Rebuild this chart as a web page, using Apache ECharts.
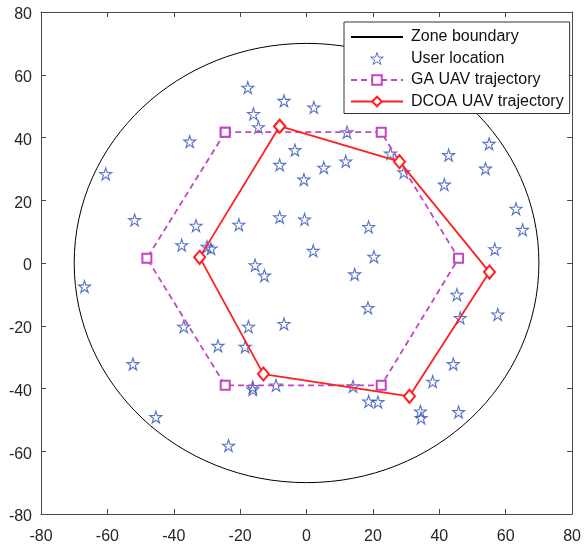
<!DOCTYPE html>
<html>
<head>
<meta charset="utf-8">
<script src="https://cdn.jsdelivr.net/npm/echarts@6/dist/echarts.min.js"></script>
<style>
html,body{margin:0;padding:0;background:#fff;}
#chart{width:584px;height:545px;}
</style>
</head>
<body>
<div id="chart"></div>
<script>
// ---- data ----
const axisTicks = [-80, -60, -40, -20, 0, 20, 40, 60, 80];
const zoneBoundary = [0, 0, 70]; // center x, center y, radius
const userLocations = [
  [-17.7, 55.9], [-6.8, 51.7], [-16, 47.5], [-14.5, 43.3], [-35.2, 38.7],
  [-3.5, 36], [-60.5, 28.4], [-8.1, 31.3], [-0.8, 26.6], [-51.8, 13.7],
  [-33.3, 11.9], [-20.4, 12.2], [-8.1, 14.6], [-0.6, 13.9], [-37.6, 5.7],
  [-30, 5.2], [-28.8, 4.6], [-15.5, -0.7], [2.2, 49.6], [12.2, 41.7],
  [25.3, 34.9], [29.3, 28.9], [11.8, 32.4], [5.2, 30.4], [55, 38],
  [42.8, 34.4], [53.9, 30.1], [41.5, 25], [63.1, 17.3], [65.1, 10.6],
  [18.7, 11.5], [2, 3.9], [20.3, 2], [56.7, 4.4], [-66.9, -7.5],
  [-12.7, -4], [-37, -20.3], [-17.5, -20.3], [-6.8, -19.4], [-26.7, -26.4],
  [-18.5, -26.7], [-52.3, -32.2], [-16.2, -39.5], [-16.2, -40.3], [-9.2, -39],
  [-45.4, -49.1], [-23.5, -58.2], [14.5, -3.6], [18.5, -14.3], [45.3, -10.1],
  [46.3, -17.5], [57.6, -16.4], [44.2, -32.2], [38, -37.8], [14, -39.3],
  [18.7, -44.1], [21.5, -44.3], [34.3, -47.3], [34.5, -49.4], [45.8, -47.5]
];
const gaTrajectory = [
  [-24.5, 41.7], [22.5, 41.7], [45.8, 1.5], [22.5, -39], [-24.5, -39], [-48.1, 1.5], [-24.5, 41.7]
];
const dcoaTrajectory = [
  [-8.1, 43.6], [28, 32.3], [55.1, -2.9], [31, -42.5], [-13, -35.4], [-32.2, 1.8], [-8.1, 43.6]
];
const legendNames = ['Zone boundary', 'User location', 'GA UAV trajectory', 'DCOA UAV trajectory'];

// ---- chart ----
const STAR = 'path://M10,0L12.245,6.91L19.511,6.91L13.633,11.18L15.878,18.09L10,13.82L4.122,18.09L6.367,11.18L0.489,6.91L7.755,6.91Z';
const FONT = "'Liberation Sans', Arial, Helvetica, sans-serif";
const axisColor = '#4a4a4a';
const axMin = axisTicks[0], axMax = axisTicks[axisTicks.length - 1];
const axInterval = axisTicks[1] - axisTicks[0];

function mkAxis(pos, showLabel, isX) {
  const label = {
    show: showLabel, color: '#262626', fontSize: 16, fontFamily: FONT,
    margin: isX ? 15 : 9
  };
  if (!isX) { label.verticalAlign = 'top'; label.lineHeight = 6; }
  return {
    type: 'value', position: pos, min: axMin, max: axMax, interval: axInterval,
    axisLine: { show: true, onZero: false, lineStyle: { color: axisColor, width: 1 } },
    axisTick: { show: true, inside: true, length: 5, lineStyle: { color: axisColor } },
    axisLabel: label,
    splitLine: { show: false }
  };
}

const chart = echarts.init(document.getElementById('chart'), null, { renderer: 'canvas' });
chart.setOption({
  animation: false,
  backgroundColor: '#fff',
  grid: { left: 41, right: 9, top: 12, bottom: 28, containLabel: false },
  xAxis: [mkAxis('bottom', true, true), mkAxis('top', false, true)],
  yAxis: [mkAxis('left', true, false), mkAxis('right', false, false)],
  legend: {
    data: [
      { name: legendNames[0], itemStyle: { opacity: 0 } },
      { name: legendNames[1], itemStyle: { borderWidth: 1 } },
      { name: legendNames[2] },
      { name: legendNames[3] }
    ],
    orient: 'vertical',
    left: 344, top: 22,
    padding: [7, 6, 4, 6],
    itemWidth: 52, itemHeight: 12, itemGap: 5.5,
    backgroundColor: '#fff', borderColor: '#333', borderWidth: 1,
    textStyle: { fontSize: 16, fontFamily: FONT, color: '#111', lineHeight: 16, padding: [0, 0, 0, 3] },
    selectedMode: false
  },
  series: [
    {
      name: 'Zone boundary', type: 'line', data: [], symbol: 'none',
      lineStyle: { color: '#000', width: 1 }, itemStyle: { color: '#000' }
    },
    {
      name: 'zone', type: 'custom', xAxisIndex: 0, yAxisIndex: 0,
      dimensions: ['x', 'y', 'r'], encode: { x: 0, y: 1 },
      data: [zoneBoundary],
      renderItem: function (params, api) {
        const c = api.coord([api.value(0), api.value(1)]);
        const s = api.size([api.value(2), api.value(2)]);
        return {
          type: 'ellipse',
          shape: { cx: c[0], cy: c[1], rx: s[0], ry: s[1] },
          style: { fill: 'none', stroke: '#000', lineWidth: 1 }
        };
      },
      silent: true, z: 1
    },
    {
      name: 'User location', type: 'scatter', data: userLocations,
      symbol: STAR, symbolSize: 12,
      itemStyle: { color: 'rgba(0,0,0,0)', borderColor: '#2f4fb8', borderWidth: 1.1 },
      z: 2
    },
    {
      name: 'GA UAV trajectory', type: 'line', data: gaTrajectory,
      symbol: 'emptyRect', symbolSize: 9, showSymbol: true,
      lineStyle: { color: '#c445c4', width: 1.8, type: [6, 4] },
      itemStyle: { color: '#c445c4', borderColor: '#c445c4', borderWidth: 1.2 },
      z: 3
    },
    {
      name: 'DCOA UAV trajectory', type: 'line', data: dcoaTrajectory,
      symbol: 'emptyDiamond', symbolSize: [11, 13], showSymbol: true,
      lineStyle: { color: '#ff1f1f', width: 1.8 },
      itemStyle: { color: '#ff1f1f', borderColor: '#ff1f1f', borderWidth: 1.5 },
      z: 4
    }
  ]
});
</script>
</body>
</html>
